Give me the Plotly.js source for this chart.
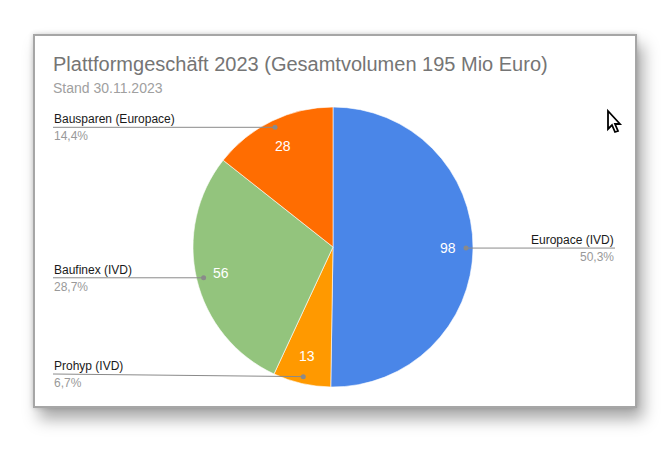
<!DOCTYPE html>
<html>
<head>
<meta charset="utf-8">
<script src="https://cdn.plot.ly/plotly-3.0.1.min.js"></script>
<style>
  body { margin: 0; background: #fff; }
  #frame {
    position: absolute; left: 33px; top: 34px; width: 600px; height: 370px;
    border: 2px solid #a6a6a6; background: #fff;
    box-shadow: 6px 11px 15px rgba(0,0,0,0.34), 0 0 5px rgba(0,0,0,0.18);
  }
  #chart { position: absolute; left: 0; top: 0; width: 668px; height: 450px; }
</style>
</head>
<body>
<div id="frame"></div>
<div id="chart"></div>
<script>
// slices in drawing order, clockwise from 12 o'clock
const labels = ["Europace (IVD)", "Prohyp (IVD)", "Baufinex (IVD)", "Bausparen (Europace)"];
const values = [98, 13, 56, 28];
const colors = ["#4a86e8", "#ff9900", "#93c47d", "#ff6d01"];

const W = 668, H = 450;
const cx = 333, cy = 247, R = 140;
const px = x => x / W;
const py = y => 1 - y / H;

const total = values.reduce((a, b) => a + b, 0);
const fmt = v => (Math.round(v * 1000) / 10).toFixed(1).replace(".", ",") + "%";

let annotations = [];
let shapes = [];
let start = 0;
for (let i = 0; i < values.length; i++) {
  let frac = values[i] / total;
  let mid = (start + frac / 2) * 2 * Math.PI;
  start += frac;
  let s = Math.sin(mid), c = Math.cos(mid);

  // value inside the slice
  annotations.push({
    x: px(cx + s * R * 0.82), y: py(cy - c * R * 0.8),
    xref: "paper", yref: "paper", showarrow: false,
    xanchor: "center", yanchor: "middle",
    text: String(values[i]),
    font: { family: "Liberation Sans, Arial, sans-serif", size: 14, color: "#ffffff" }
  });

  // leader line and outside label
  let dx = cx + s * R * 0.95, dy = cy - c * R * 0.95;
  let right = s > 0;
  let lx = right ? 615 : 53;
  let ly = Math.min(dy, 374);
  shapes.push({
    type: "line", xref: "paper", yref: "paper",
    x0: px(dx), y0: py(dy), x1: px(lx), y1: py(ly),
    line: { color: "#8a8a8a", width: 1 }
  });
  shapes.push({
    type: "circle", xref: "paper", yref: "paper",
    x0: px(dx - 2.5), y0: py(dy - 2.5), x1: px(dx + 2.5), y1: py(dy + 2.5),
    fillcolor: "#8a8a8a", line: { width: 0 }
  });
  annotations.push({
    x: px(lx), y: py(ly), xref: "paper", yref: "paper", showarrow: false,
    xanchor: right ? "right" : "left", yanchor: "bottom",
    borderpad: 0, text: labels[i],
    font: { family: "Liberation Sans, Arial, sans-serif", size: 12, color: "#1a1a1a" }
  });
  annotations.push({
    x: px(lx), y: py(ly + 1), xref: "paper", yref: "paper", showarrow: false,
    xanchor: right ? "right" : "left", yanchor: "top",
    borderpad: 0, text: fmt(frac),
    font: { family: "Liberation Sans, Arial, sans-serif", size: 12, color: "#999999" }
  });
}

// titles
annotations.push({
  x: px(52), y: py(52), xref: "paper", yref: "paper", showarrow: false,
  xanchor: "left", yanchor: "top", borderpad: 0,
  text: "Plattformgeschäft 2023 (Gesamtvolumen 195 Mio Euro)",
  font: { family: "Liberation Sans, Arial, sans-serif", size: 20, color: "#757575" }
});
annotations.push({
  x: px(52), y: py(79), xref: "paper", yref: "paper", showarrow: false,
  xanchor: "left", yanchor: "top", borderpad: 0,
  text: "Stand 30.11.2023",
  font: { family: "Liberation Sans, Arial, sans-serif", size: 14, color: "#a0a0a0" }
});

// mouse pointer
const cur = [[0,0],[0,18],[4,14],[7,21],[10,20],[7,13],[12,13]];
shapes.push({
  type: "path", xref: "paper", yref: "paper",
  path: "M" + cur.map(p => px(608 + p[0]) + "," + py(111 + p[1])).join("L") + "Z",
  fillcolor: "#ffffff", line: { color: "#000000", width: 1.8 }
});

const data = [{
  type: "pie",
  labels: labels,
  values: values,
  sort: false,
  direction: "clockwise",
  rotation: 0,
  textinfo: "none",
  hoverinfo: "label+value+percent",
  marker: { colors: colors, line: { color: "#ffffff", width: 0.6 } },
  domain: { x: [px(cx - R), px(cx + R)], y: [py(cy + R), py(cy - R)] },
  showlegend: false
}];

const layout = {
  width: W, height: H,
  margin: { l: 0, r: 0, t: 0, b: 0 },
  paper_bgcolor: "rgba(0,0,0,0)",
  plot_bgcolor: "rgba(0,0,0,0)",
  showlegend: false,
  annotations: annotations,
  shapes: shapes
};

Plotly.newPlot("chart", data, layout, { displayModeBar: false, staticPlot: true });
</script>
</body>
</html>
